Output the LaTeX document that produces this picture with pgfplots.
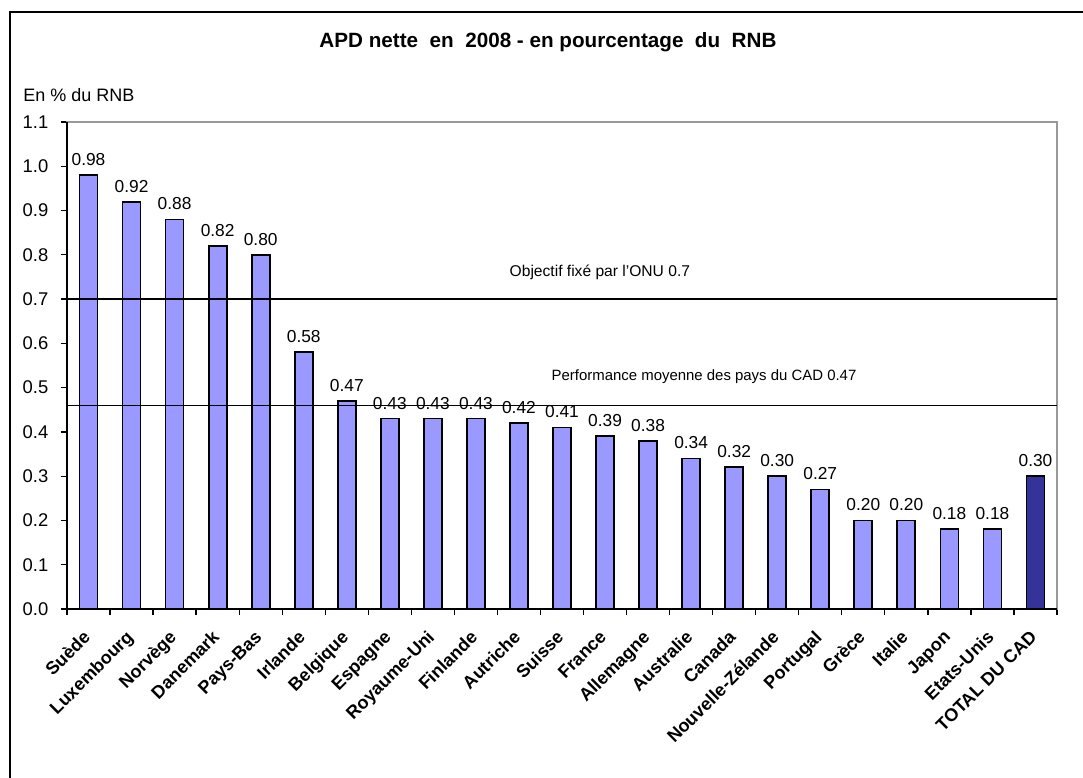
\documentclass[border=0pt]{standalone}
\usepackage{fontspec}
\setmainfont{Liberation Sans}
\usepackage{pgfplots}
\pgfplotsset{compat=1.18}
\definecolor{barblue}{HTML}{9999FF}
\definecolor{totblue}{HTML}{333399}
\begin{document}
\begin{tikzpicture}
\path[use as bounding box] (0pt,0pt) rectangle (812.25pt,583.5pt);
\draw[line width=1.5pt] (7.5pt,-2pt) -- (7.5pt,574.5pt) -- (815pt,574.5pt);
\node[font=\bfseries\fontsize{15.5}{18}\selectfont] at (411pt,552pt) {APD nette \ en \ 2008 - en pourcentage \ du \ RNB};
\node[anchor=west,font=\fontsize{13.5}{16}\selectfont,inner sep=0pt] at (17.25pt,512.25pt) {En \% du RNB};
\begin{axis}[
  at={(50.25pt,126.75pt)}, anchor=south west,
  width=742.5pt, height=365.25pt, scale only axis,
  xmin=-0.5, xmax=22.5, ymin=0, ymax=1.1,
  /pgf/number format/assume math mode=true,
  ytick={0,0.1,0.2,0.3,0.4,0.5,0.6,0.7,0.8,0.9,1.0,1.1},
  yticklabel style={font=\fontsize{13.8}{16}\selectfont,xshift=-6pt,/pgf/number format/.cd,fixed,fixed zerofill,precision=1},
  xtick={0,...,22},
  xticklabels={Suède,Luxembourg,Norvège,Danemark,Pays-Bas,Irlande,Belgique,Espagne,Royaume-Uni,Finlande,Autriche,Suisse,France,Allemagne,Australie,Canada,Nouvelle-Zélande,Portugal,Grèce,Italie,Japon,Etats-Unis,TOTAL DU CAD},
  xticklabel style={font=\bfseries\fontsize{13.5}{16}\selectfont,xshift=-5pt,yshift=-9pt,rotate=45,anchor=north east,inner sep=1pt},
  major x tick style={draw=none},
  minor xtick={-0.5,0.5,...,22.5},
  tick align=outside, major tick length=4.5pt, minor tick length=4.5pt,
  xtick pos=bottom, ytick pos=left,
  tick style={black,line width=1pt},
  axis line style={draw=gray!80,line width=0.8pt},
  ybar, bar width=13.5pt,
  nodes near coords,
  every node near coord/.append style={font=\fontsize{13}{15}\selectfont,black,yshift=3pt,/pgf/number format/.cd,fixed,fixed zerofill,precision=2},
  clip=false,
]
\addplot[bar shift=0pt, fill=barblue, draw=black, line width=1.3pt] coordinates {
(0,0.98) (1,0.92) (2,0.88) (3,0.82) (4,0.80) (5,0.58) (6,0.47) (7,0.43) (8,0.43) (9,0.43) (10,0.42)
(11,0.41) (12,0.39) (13,0.38) (14,0.34) (15,0.32) (16,0.30) (17,0.27) (18,0.20) (19,0.20) (20,0.18) (21,0.18)};
\addplot[bar shift=0pt, fill=totblue, draw=black, line width=1.3pt] coordinates {(22,0.30)};
\draw[line width=1.2pt] (axis cs:-0.5,0.7) -- (axis cs:22.5,0.7);
\draw[line width=1.2pt] (axis cs:-0.5,0.46) -- (axis cs:22.5,0.46);
\draw[line width=1.2pt] (rel axis cs:0,1) -- (rel axis cs:0,0) -- (rel axis cs:1,0);
\node[font=\fontsize{11.7}{14}\selectfont] at (axis cs:11.88,0.761) {Objectif fixé par l'ONU 0.7};
\node[font=\fontsize{11.2}{13}\selectfont] at (axis cs:14.3,0.524) {Performance moyenne des pays du CAD 0.47};
\end{axis}
\end{tikzpicture}
\end{document}
